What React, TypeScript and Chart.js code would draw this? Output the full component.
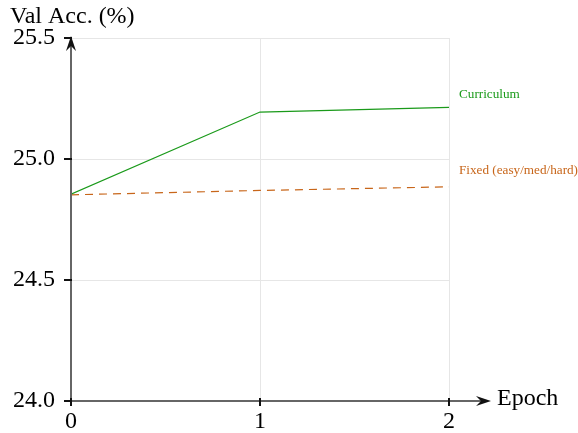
import React, { useEffect, useRef } from "react";
import { Chart, registerables } from "chart.js";

Chart.register(...registerables);

const epochs = [0, 1, 2];
const curriculum = [24.855, 25.194, 25.213];
const fixedSched = [24.852, 24.87, 24.885];
const yTicks = [24.0, 24.5, 25.0, 25.5];
const seriesNames = ["Curriculum", "Fixed (easy/med/hard)"];
const green = "#1a9a1a";
const orange = "#c8661a";
const FONT = "'Liberation Serif', 'Times New Roman', serif";

const overlay = {
  id: "overlay",
  afterDraw(chart: any) {
    const { ctx, chartArea } = chart;
    const x = chart.scales.x;
    const y = chart.scales.y;
    const left = chartArea.left;
    const bottom = chartArea.bottom;
    ctx.save();
    // axes
    ctx.strokeStyle = "#666";
    ctx.fillStyle = "#111";
    ctx.lineWidth = 2;
    ctx.beginPath();
    ctx.moveTo(left, bottom);
    ctx.lineTo(left, 42);
    ctx.moveTo(left, bottom);
    ctx.lineTo(486, bottom);
    ctx.stroke();
    // arrow heads
    ctx.beginPath();
    ctx.moveTo(left, 36);
    ctx.lineTo(left - 5, 51);
    ctx.lineTo(left, 46);
    ctx.lineTo(left + 5, 51);
    ctx.closePath();
    ctx.fill();
    ctx.beginPath();
    ctx.moveTo(491, bottom);
    ctx.lineTo(476, bottom - 5);
    ctx.lineTo(481, bottom);
    ctx.lineTo(476, bottom + 5);
    ctx.closePath();
    ctx.fill();
    // ticks
    ctx.strokeStyle = "#111";
    ctx.lineWidth = 2;
    ctx.beginPath();
    yTicks.forEach((v) => {
      const py = y.getPixelForValue(v);
      ctx.moveTo(left - 7, py);
      ctx.lineTo(left + 1, py);
    });
    epochs.forEach((v) => {
      const px = x.getPixelForValue(v);
      ctx.moveTo(px, bottom - 3);
      ctx.lineTo(px, bottom + 5);
    });
    ctx.stroke();
    // titles
    ctx.fillStyle = "#000";
    ctx.font = `24px ${FONT}`;
    ctx.textBaseline = "middle";
    ctx.textAlign = "left";
    ctx.fillText("Val Acc. (%)", 10, 17);
    ctx.fillText("Epoch", 497, 399);
    // series labels
    ctx.font = `13.2px ${FONT}`;
    const xe = x.getPixelForValue(epochs[epochs.length - 1]) + 10;
    ctx.fillStyle = green;
    ctx.fillText(seriesNames[0], xe, y.getPixelForValue(curriculum[curriculum.length - 1]) - 13);
    ctx.fillStyle = orange;
    ctx.fillText(seriesNames[1], xe, y.getPixelForValue(fixedSched[fixedSched.length - 1]) - 16);
    ctx.restore();
  },
};

export default function App() {
  const ref = useRef<HTMLCanvasElement>(null);
  useEffect(() => {
    document.body.style.margin = "0";
    const chart = new Chart(ref.current!, {
      type: "line",
      data: {
        datasets: [
          {
            label: seriesNames[0],
            data: epochs.map((e, i) => ({ x: e, y: curriculum[i] })),
            borderColor: green,
            borderWidth: 1.2,
            pointRadius: 0,
            tension: 0,
          },
          {
            label: seriesNames[1],
            data: epochs.map((e, i) => ({ x: e, y: fixedSched[i] })),
            borderColor: orange,
            borderWidth: 1.2,
            borderDash: [8, 6],
            pointRadius: 0,
            tension: 0,
          },
        ],
      },
      options: {
        animation: false,
        responsive: false,
        layout: { padding: { top: 38, right: 129, left: 8, bottom: 0 } },
        plugins: { legend: { display: false }, tooltip: { enabled: false } },
        scales: {
          x: {
            type: "linear",
            min: 0,
            max: 2,
            afterFit: (a: any) => { a.height = 32; },
            border: { display: false },
            grid: { color: "#e6e6e6", drawTicks: false, lineWidth: 1 },
            ticks: {
              stepSize: 1,
              padding: 6,
              color: "#000",
              font: { family: FONT, size: 24 },
              callback: (v: any) => String(v),
            },
          },
          y: {
            min: 24,
            max: 25.5,
            afterFit: (a: any) => { a.width = 63; },
            afterBuildTicks: (a: any) => { a.ticks = yTicks.map((v) => ({ value: v })); },
            border: { display: false },
            grid: { color: "#e6e6e6", drawTicks: false, lineWidth: 1 },
            ticks: {
              padding: 16,
              color: "#000",
              font: { family: FONT, size: 24 },
              callback: (v: any) => Number(v).toFixed(1),
            },
          },
        },
      },
      plugins: [overlay],
    });
    return () => chart.destroy();
  }, []);
  return (
    <div style={{ position: "absolute", left: 0, top: 0, width: 578, height: 433 }}>
      <canvas ref={ref} width={578} height={433} style={{ width: 578, height: 433 }} />
    </div>
  );
}
